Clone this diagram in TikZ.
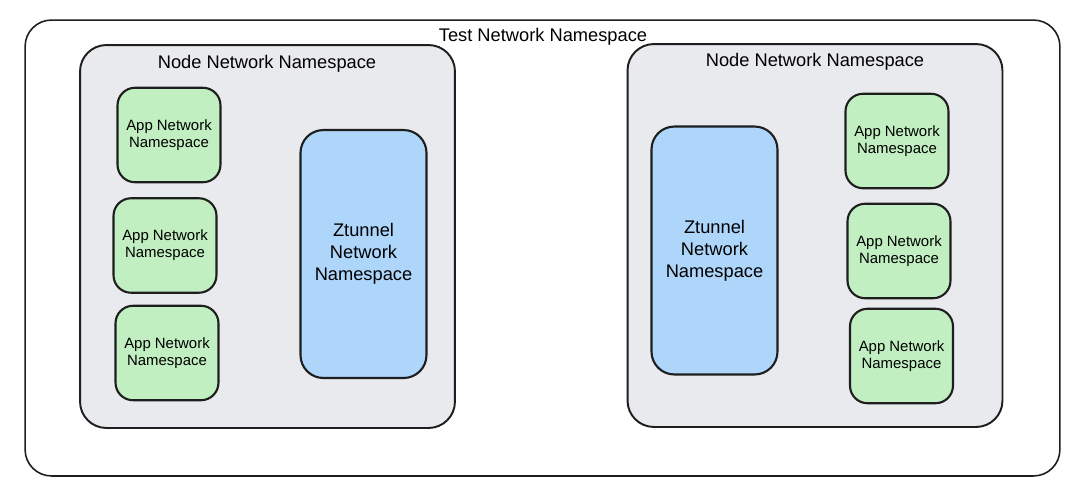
\documentclass[tikz,border=0pt]{standalone}
\usepackage{fontspec}
\setmainfont{Liberation Sans}
\usepackage{xcolor}
\usepackage{tikz}
\usetikzlibrary{positioning}
\definecolor{nsGray}{HTML}{E9EAEE}
\definecolor{appGreen}{HTML}{C1EFC1}
\definecolor{ztBlue}{HTML}{AED5FA}
\definecolor{lineDark}{HTML}{1E1E1E}

\begin{document}
\begin{tikzpicture}[
    x=0.02cm, y=-0.02cm,
    every node/.style={font=\fontsize{10.4}{12.5}\selectfont},
    testns/.style={rectangle,draw=lineDark,line width=0.9pt,fill=white,
                   rounded corners=15pt,minimum width=20.7cm,minimum height=9.12cm},
    nodens/.style={rectangle,draw=lineDark,line width=1.1pt,fill=nsGray,
                   rounded corners=15pt,minimum width=7.5cm,minimum height=7.66cm},
    appns/.style={rectangle,draw=lineDark,line width=1.2pt,fill=appGreen,
                  rounded corners=10pt,minimum width=2.06cm,minimum height=1.89cm,
                  align=center,inner sep=0pt,font=\fontsize{8.5}{9.7}\selectfont},
    ztns/.style={rectangle,draw=lineDark,line width=1.2pt,fill=ztBlue,
                 rounded corners=13pt,minimum width=2.52cm,minimum height=4.96cm,
                 align=center,inner sep=0pt},
    title/.style={inner sep=0pt}
  ]
  \useasboundingbox (0,0) rectangle (1080,491);

  % outer namespace
  \node[testns] (test) at (542.5,248) {};
  \node[title] (testlbl) at (543,36.5) {Test Network Namespace};

  % left node
  \node[nodens] (nodeL) at (267.5,236.5) {};
  \node[title] (nodeLlbl) at (267,63.5) {Node Network Namespace};
  \node[appns] (appL1) at (169,135) {App Network\\Namespace};
  \node[appns] (appL2) at (165,245.5) {App Network\\Namespace};
  \node[appns] (appL3) at (167,353) {App Network\\Namespace};
  \node[ztns] (ztL) at (363.5,254) {Ztunnel\\Network\\Namespace};

  % right node
  \node[nodens] (nodeR) at (815,235.5) {};
  \node[title] (nodeRlbl) at (815,61.5) {Node Network Namespace};
  \node[ztns] (ztR) at (714.5,250.5) {Ztunnel\\Network\\Namespace};
  \node[appns] (appR1) at (897,141) {App Network\\Namespace};
  \node[appns] (appR2) at (899,251) {App Network\\Namespace};
  \node[appns] (appR3) at (901.5,356) {App Network\\Namespace};
\end{tikzpicture}
\end{document}
